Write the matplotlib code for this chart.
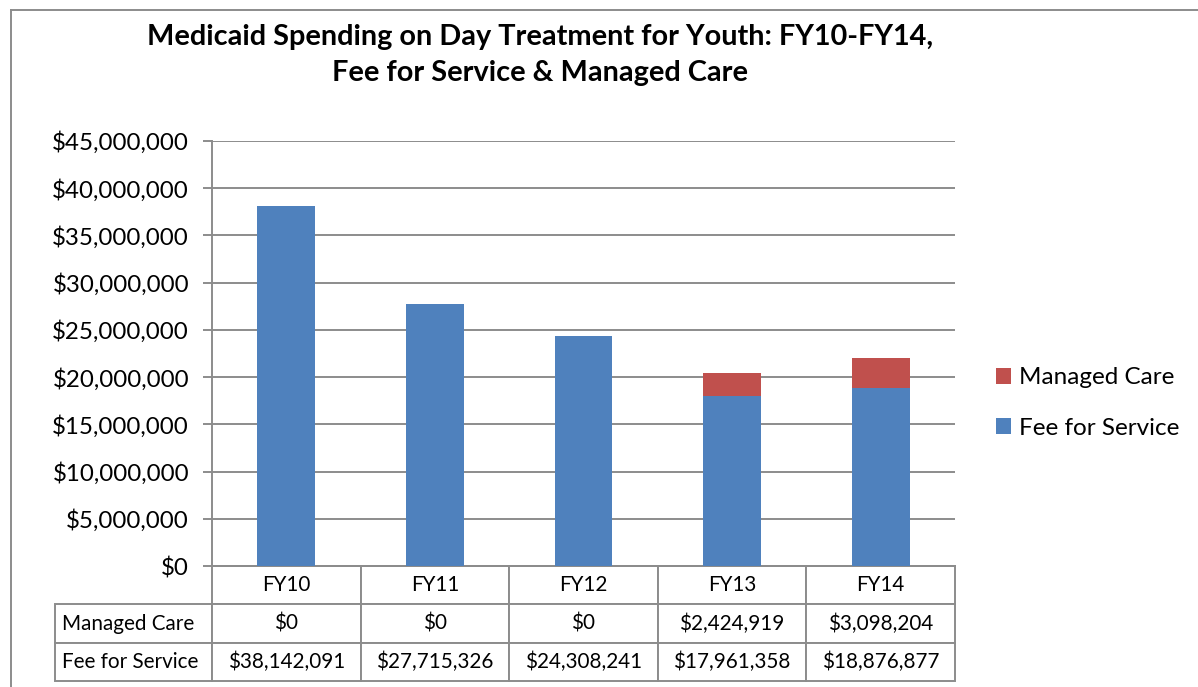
import matplotlib
matplotlib.use("Agg")
import matplotlib.pyplot as plt
from matplotlib.lines import Line2D
from matplotlib.ticker import FuncFormatter

# данні з таблиці під графіком
years = ["FY10", "FY11", "FY12", "FY13", "FY14"]
fee_for_service = [38142091, 27715326, 24308241, 17961358, 18876877]
managed_care = [0, 0, 0, 2424919, 3098204]
series_names = ["Managed Care", "Fee for Service"]

plt.rcParams['font.family'] = ['Lato', 'DejaVu Sans']
grey = '#8c8c8c'

W, H = 1198, 687
fig = plt.figure(figsize=(W / 100, H / 100), dpi=100)
ax = fig.add_axes([212 / W, 1 - 566 / H, 743 / W, 425 / H])

x = list(range(len(years)))
bars_fee = ax.bar(x, fee_for_service, width=0.39, color='#4F81BD', zorder=3)
bars_mc = ax.bar(x, managed_care, width=0.39, bottom=fee_for_service,
                 color='#C0504D', zorder=3)

ax.set_xlim(-0.5, len(years) - 0.5)
ax.set_ylim(0, 45000000)
ax.set_yticks(range(0, 45000001, 5000000))
ax.yaxis.set_major_formatter(FuncFormatter(lambda v, p: f"${v:,.0f}"))
ax.grid(axis='y', color=grey, lw=1.4, zorder=0)
ax.set_xticks([])
for s in ['top', 'right']:
    ax.spines[s].set_visible(False)
for s in ['left', 'bottom']:
    ax.spines[s].set_color(grey)
    ax.spines[s].set_linewidth(1.4)
ax.tick_params(axis='y', length=6.5, color=grey, width=1.4, labelsize=17.4, pad=10)

# таблиця даних
cell_text = [[""] + years,
             [series_names[0]] + [f"${v:,}" for v in managed_care],
             [series_names[1]] + [f"${v:,}" for v in fee_for_service]]
lab_w = 157 / 743
tbl = ax.table(cellText=cell_text, cellLoc='center',
               colWidths=[lab_w] + [1 / len(years)] * len(years),
               bbox=[-lab_w, -115 / 425, 1 + lab_w, 115 / 425])
tbl.auto_set_font_size(False)
tbl.set_fontsize(14.9)
for (r, c), cell in tbl.get_celld().items():
    cell.set_edgecolor(grey)
    cell.set_linewidth(1.4)
    if c == 0:
        cell.get_text().set_ha('left')
        cell.PAD = 0.045
tbl[(0, 0)].set_visible(False)

fig.text(540 / W, 1 - 55 / H,
         "Medicaid Spending on Day Treatment for Youth: FY10-FY14,\nFee for Service & Managed Care",
         ha='center', va='center', fontsize=20.8, weight='bold', linespacing=1.5)

fig.legend(handles=[bars_mc, bars_fee], labels=series_names,
           loc='center left', bbox_to_anchor=(974 / W, 1 - 403 / H),
           frameon=False, fontsize=17.5, handlelength=0.62, handleheight=0.62,
           handletextpad=0.35, labelspacing=1.2)

# рамка області діаграми
fig.add_artist(Line2D([11 / W, 11 / W], [0, 1 - 10 / H], transform=fig.transFigure,
                      color=grey, lw=1.4))
fig.add_artist(Line2D([11 / W, 1], [1 - 10 / H, 1 - 10 / H], transform=fig.transFigure,
                      color=grey, lw=1.4))

fig.savefig('out.png', dpi=100)
